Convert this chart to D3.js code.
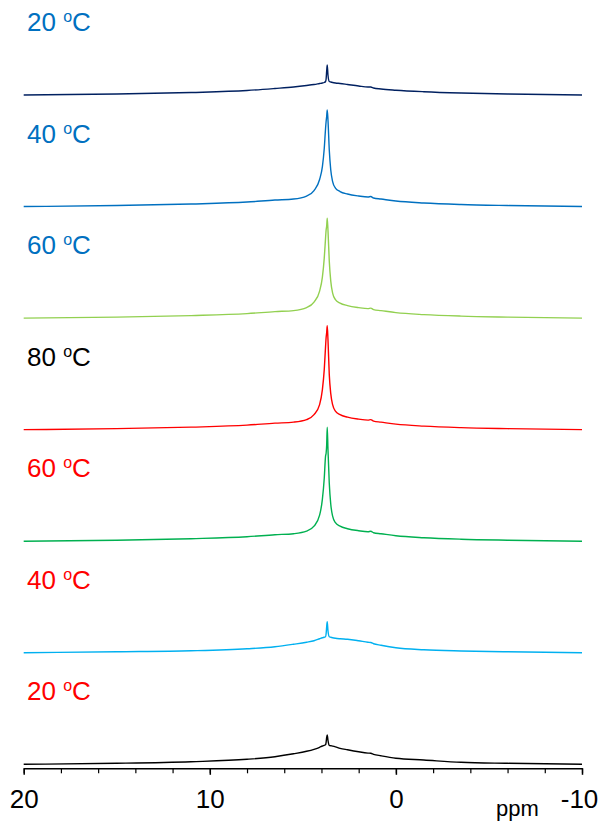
<!DOCTYPE html>
<html>
<head>
<meta charset="utf-8">
<script src="https://cdn.jsdelivr.net/npm/d3@7"></script>
<style>
  body { margin: 0; background: #fff; }
  text { font-family: "Liberation Sans", Arial, sans-serif; }
</style>
</head>
<body>
<svg id="chart" width="603" height="825"></svg>
<script>
// chemical shift grid (ppm), shared by every trace
const ppm = [20, 15, 11, 8, 6.5, 5.5, 4.8, 4.4, 4.1, 3.95, 3.85, 3.78, 3.75, 3.72, 3.69, 3.65,
  3.58, 3.5, 3.4, 3.25, 3.0, 2.6, 2.0, 1.5, 1.35, 1.2, 0.8, 0, -1.5, -3.5, -6, -10];

// intensities, top trace first
const heat20 = [0, 1, 2.5, 4.5, 6.5, 8, 9.5, 10.5, 11.5, 12, 12.5, 13.5, 16, 24, 30, 20,
  13.5, 13, 12.5, 12, 11.5, 10.5, 9, 8, 8, 7, 6, 4.8, 3.3, 2, 1, 0];
const heat40 = [0, 1, 2.5, 4.5, 6.5, 7.5, 10.5, 16, 27, 40, 58, 78, 85, 90, 96.6, 86.6,
  56.6, 36.6, 25, 18.5, 15, 12.5, 10.5, 9.5, 10, 8.5, 7.5, 5.5, 3.5, 2, 1, 0];
const heat60 = [0, 1, 2.5, 4.5, 6.5, 7.5, 10.5, 16, 27, 41, 60, 80, 88, 92, 100, 88,
  57, 37, 25, 18.5, 15, 12.5, 10.5, 9.5, 10, 8.5, 7.5, 5.5, 3.5, 2, 1, 0];
const heat80 = [0, 1, 2.5, 4.5, 6.5, 7.5, 10, 15, 25, 40, 60, 83, 92, 97, 104, 90,
  55, 36, 25, 18.5, 15, 12.5, 10.5, 9.5, 10, 8.5, 7.5, 5.5, 3.5, 2, 1, 0];
const cool60 = [0, 1, 2.5, 4.5, 6.5, 7.5, 10, 15, 26, 42, 63, 85, 88, 96, 114, 92,
  58, 37, 25, 18.5, 15, 12.5, 10.5, 9.5, 10, 8.5, 7.5, 5.5, 3.5, 2, 1, 0];
const cool40 = [0, 1, 2, 4, 6, 8.5, 10.5, 12, 14, 15, 15.5, 16, 19, 26, 31, 22,
  16, 15.5, 15, 14.5, 14, 13.5, 12, 10.5, 10.2, 9, 7.5, 5, 3, 1.8, 1, 0];
const cool20 = [0, 1, 2.6, 5, 7.6, 10.5, 13, 15, 17, 18.3, 19, 19.5, 22, 27, 29.3, 24,
  19, 18.6, 18.2, 17.5, 16, 14.5, 12.5, 11.2, 11, 10, 8.5, 6, 4.3, 2, 1, 0];

const traces = [heat20, heat40, heat60, heat80, cool60, cool40, cool20];
const temps = ["20", "40", "60", "80", "60", "40", "20"];
const lineColors = ["#002060", "#0070c0", "#92d050", "#ff0000", "#00b050", "#00b0f0", "#000000"];
const labelColors = ["#0070c0", "#0070c0", "#0070c0", "#000000", "#ff0000", "#ff0000", "#ff0000"];

const majorTicks = [20, 10, 0, -10];
const minorTicks = d3.range(20, -10.1, -2);

const svg = d3.select("#chart");

const x = d3.scaleLinear().domain([20, -10]).range([23.7, 582]);
const offset = d3.scaleLinear().domain([0, 6]).range([95, 764.3]); // baseline of each trace
const y = d3.scaleLinear().domain([0, 100]).range([0, -100]);
const axisY = 768.3;

// traces
traces.forEach((vals, i) => {
  const line = d3.line()
    .x((d, j) => x(ppm[j]))
    .y((d) => offset(i) + y(d))
    .curve(d3.curveMonotoneX);

  svg.append("path")
    .datum(vals)
    .attr("d", line)
    .attr("fill", "none")
    .attr("stroke", lineColors[i])
    .attr("stroke-width", 1.4)
    .attr("stroke-linejoin", "round");

  const label = svg.append("text")
    .attr("x", 27)
    .attr("y", offset(i) - 64)
    .attr("fill", labelColors[i])
    .attr("font-size", 26);
  label.append("tspan").text(temps[i] + " ");
  label.append("tspan").attr("font-size", 16).attr("dy", -9).text("o");
  label.append("tspan").attr("dy", 9).text("C");
});

// axis: minor ticks every 2 ppm, labelled majors every 10
const axisG = svg.append("g").attr("transform", `translate(0,${axisY})`);

axisG.append("g")
  .call(d3.axisBottom(x).tickValues(minorTicks).tickSize(5).tickSizeOuter(0).tickFormat(""))
  .call((g) => g.select(".domain").attr("stroke-width", 1.5))
  .call((g) => g.selectAll(".tick line").attr("stroke-width", 1.2));

axisG.append("g")
  .call(d3.axisBottom(x).tickValues(majorTicks).tickSize(6.5).tickSizeOuter(0).tickFormat((d) => String(d)))
  .call((g) => g.select(".domain").remove())
  .call((g) => g.selectAll(".tick line").attr("stroke-width", 1.5))
  .call((g) => g.selectAll(".tick text")
    .attr("font-family", "Liberation Sans, Arial, sans-serif")
    .attr("font-size", 26)
    .attr("fill", "#000")
    .attr("y", 39.7)
    .attr("dy", 0)
    .attr("dx", (d) => (d === -10 ? -3 : 0)));

svg.append("text")
  .attr("x", 496)
  .attr("y", 816)
  .attr("font-size", 22)
  .attr("fill", "#000")
  .text("ppm");
</script>
</body>
</html>
